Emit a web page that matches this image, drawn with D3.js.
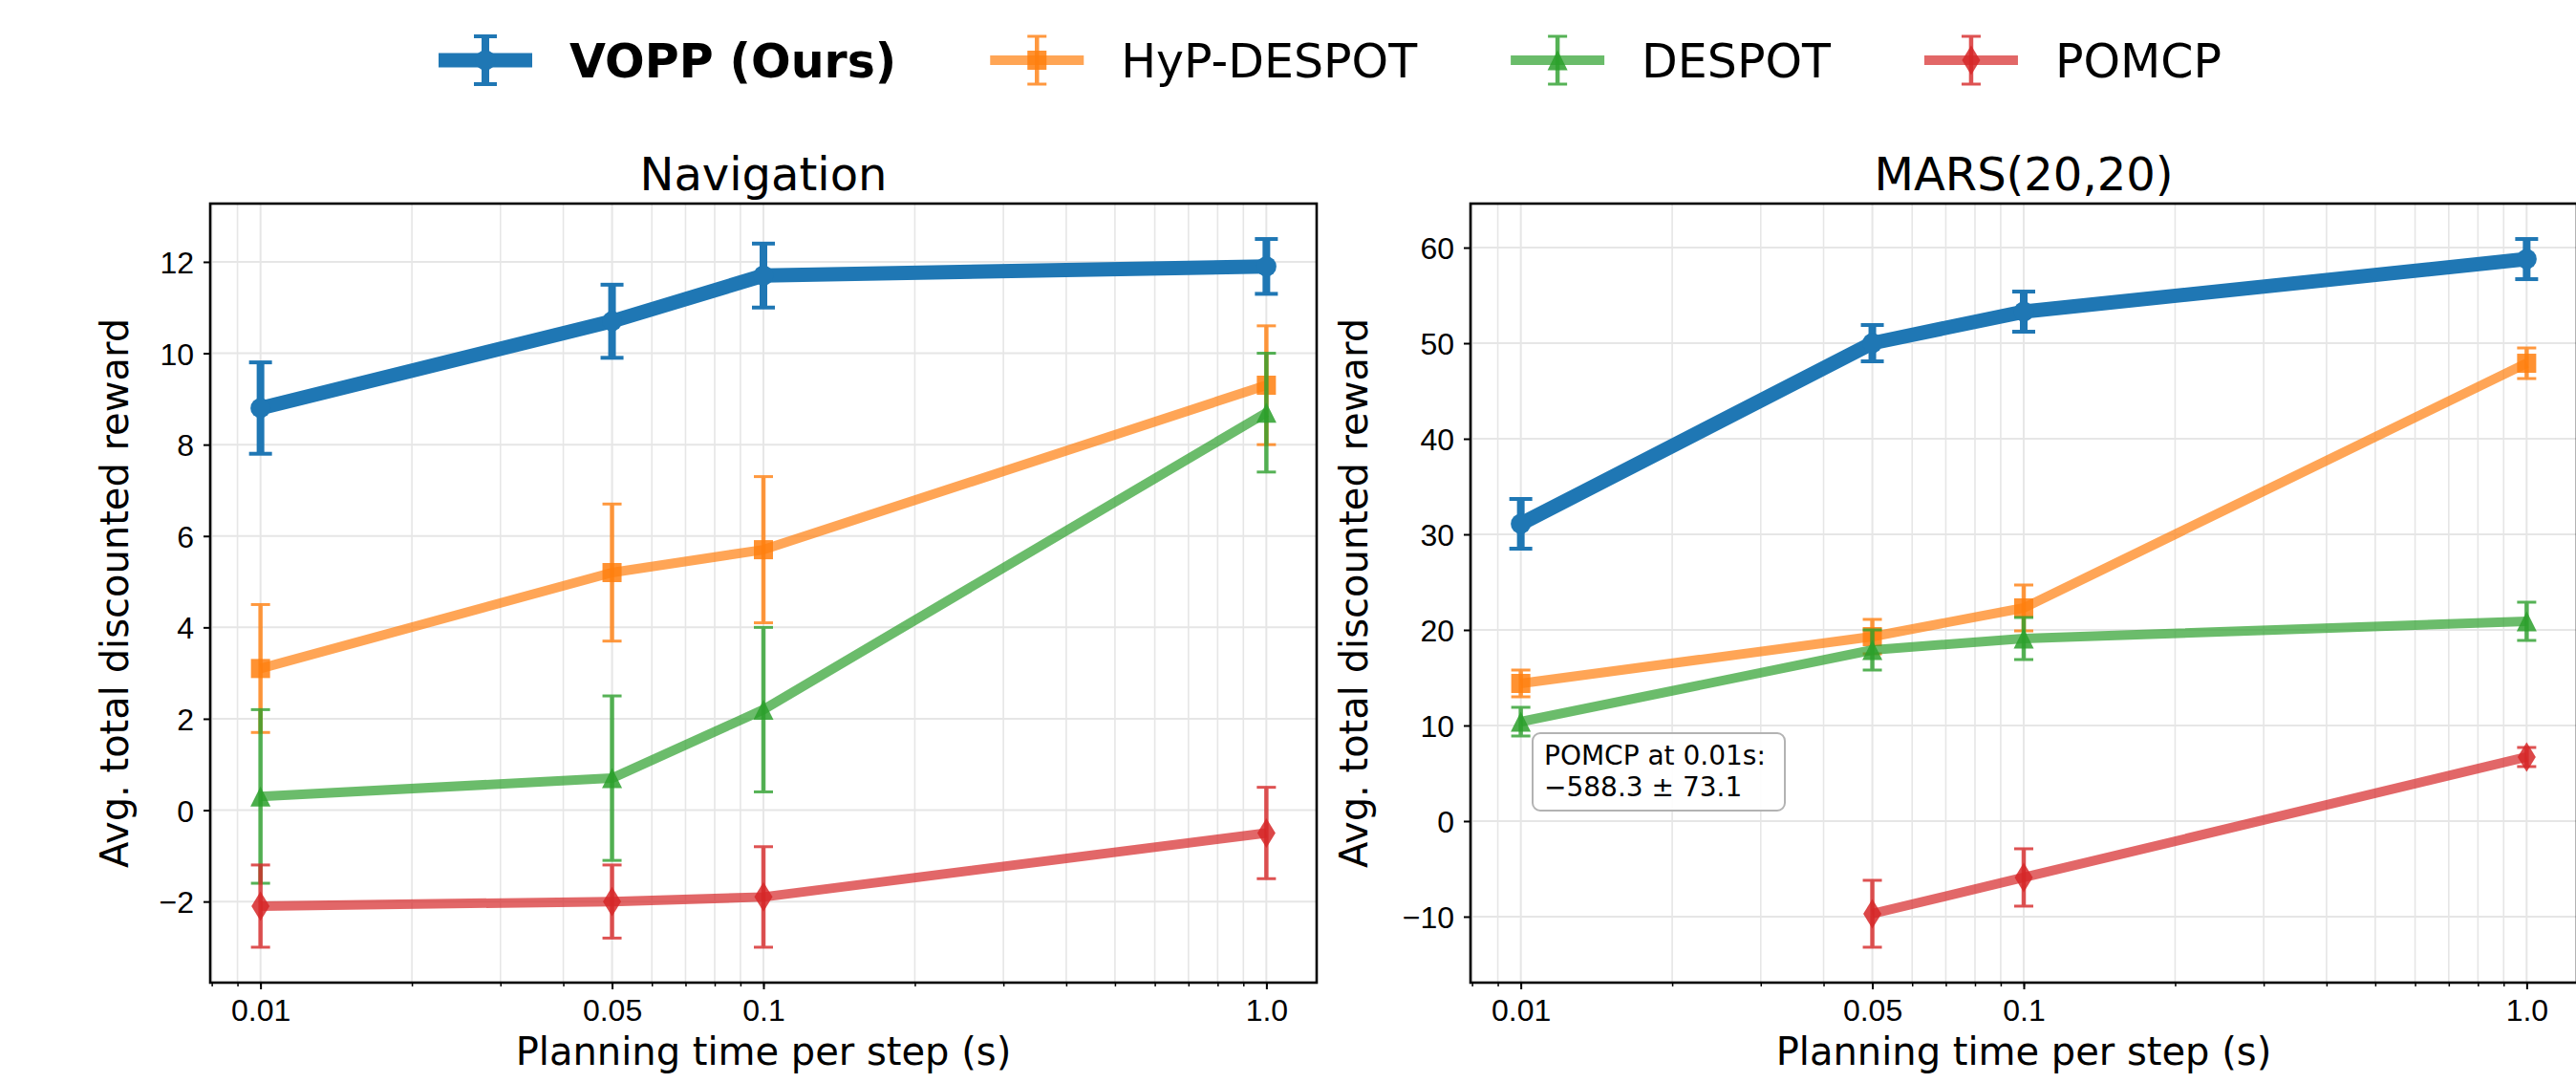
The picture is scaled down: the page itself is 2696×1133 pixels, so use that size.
<!DOCTYPE html>
<html>
<head>
<meta charset="utf-8">
<script src="https://cdn.jsdelivr.net/npm/d3@7"></script>
<style>
  body { margin: 0; background: #fff; }
  svg { display: block; font-family: 'DejaVu Sans', sans-serif; }
</style>
</head>
<body>
<div id="chart"></div>
<script>
const times = [0.01, 0.05, 0.1, 1.0]
const timeLabels = ['0.01', '0.05', '0.1', '1.0']
const methods = ['VOPP (Ours)', 'HyP-DESPOT', 'DESPOT', 'POMCP']
const colors = ['#1f77b4', '#ff7f0e', '#2ca02c', '#d62728']
const symbols = ['circle', 'square', 'triangle', 'diamond']

// Navigation: one row per method, one value per planning time
const navMeans = [
  [8.8, 10.7, 11.7, 11.9],
  [3.1, 5.2, 5.7, 9.3],
  [0.3, 0.7, 2.2, 8.7],
  [-2.1, -2.0, -1.9, -0.5]
]
const navErrs = [
  [1.0, 0.8, 0.7, 0.6],
  [1.4, 1.5, 1.6, 1.3],
  [1.9, 1.8, 1.8, 1.3],
  [0.9, 0.8, 1.1, 1.0]
]
const navYTicks = [-2, 0, 2, 4, 6, 8, 10, 12]

// MARS(20,20): POMCP at 0.01s is far off the chart, shown as a note instead
const marsMeans = [
  [31.1, 50.0, 53.3, 58.8],
  [14.4, 19.3, 22.3, 47.9],
  [10.4, 17.9, 19.1, 20.9],
  [null, -9.7, -5.9, 6.7]
]
const marsErrs = [
  [2.6, 1.9, 2.1, 2.1],
  [1.4, 1.8, 2.4, 1.6],
  [1.5, 2.1, 2.2, 2.0],
  [null, 3.5, 3.0, 1.0]
]
const marsYTicks = [-10, 0, 10, 20, 30, 40, 50, 60]
const marsPomcpOff = [-588.3, 73.1]

const width = 2696
const height = 1133
const plotTop = 213
const plotBottom = 1028
const plotW = 1158

const svg = d3
  .select('#chart')
  .append('svg')
  .attr('width', width)
  .attr('height', height)

const minus = d => (d < 0 ? '\u2212' + Math.abs(d) : String(d))

function markerPath(kind, big) {
  if (kind === 'circle') {
    const r = big ? 10.5 : 9
    return `M${-r},0A${r},${r} 0 1,0 ${r},0A${r},${r} 0 1,0 ${-r},0Z`
  }
  if (kind === 'square') {
    const s = 10
    return `M${-s},${-s}H${s}V${s}H${-s}Z`
  }
  if (kind === 'triangle') {
    const s = 10.5
    return `M0,${-s}L${s},${s}L${-s},${s}Z`
  }
  const h = 15.5
  const w = 9.5
  return `M0,${-h}L${w},0L0,${h}L${-w},0Z`
}

function styleFor(i) {
  const big = i === 0
  return {
    lineWidth: big ? 15 : 10,
    lineOpacity: big ? 1 : 0.7,
    barWidth: big ? 8 : 4.5,
    capHalf: big ? 12 : 10,
    capWidth: big ? 4 : 3,
    barOpacity: big ? 1 : 0.8
  }
}

function drawPanel(cfg) {
  const g = svg.append('g')
  const x = d3
    .scaleLog()
    .domain([Math.pow(10, -2.1), Math.pow(10, 0.1)])
    .range([cfg.left, cfg.left + plotW])

  const lows = []
  const highs = []
  cfg.means.forEach((row, i) =>
    row.forEach((m, j) => {
      if (m === null) return
      lows.push(m - cfg.errs[i][j])
      highs.push(m + cfg.errs[i][j])
    })
  )
  const lo = d3.min(lows)
  const hi = d3.max(highs)
  const pad = (hi - lo) * 0.05
  const y = d3
    .scaleLinear()
    .domain([lo - pad, hi + pad])
    .range([plotBottom, plotTop])

  const minorTicks = x.ticks()

  // grid
  g.selectAll('.xgrid')
    .data(minorTicks.concat(times))
    .enter()
    .append('line')
    .attr('x1', d => x(d))
    .attr('x2', d => x(d))
    .attr('y1', plotTop)
    .attr('y2', plotBottom)
    .attr('stroke', '#e6e6e6')
    .attr('stroke-width', 1.6)

  g.selectAll('.ygrid')
    .data(cfg.yTicks)
    .enter()
    .append('line')
    .attr('x1', cfg.left)
    .attr('x2', cfg.left + plotW)
    .attr('y1', d => y(d))
    .attr('y2', d => y(d))
    .attr('stroke', '#e6e6e6')
    .attr('stroke-width', 2)

  // axes
  const xMinor = g
    .append('g')
    .attr('transform', `translate(0,${plotBottom})`)
    .call(d3.axisBottom(x).tickValues(minorTicks).tickSize(4).tickFormat(''))
  xMinor.select('.domain').remove()
  xMinor.selectAll('line').attr('stroke', '#000').attr('stroke-width', 1.5)

  const xAxis = g
    .append('g')
    .attr('transform', `translate(0,${plotBottom})`)
    .call(
      d3
        .axisBottom(x)
        .tickValues(times)
        .tickSize(7)
        .tickPadding(10)
        .tickFormat((d, i) => timeLabels[i])
    )
  xAxis.select('.domain').remove()
  xAxis.selectAll('line').attr('stroke', '#000').attr('stroke-width', 2)
  xAxis
    .selectAll('text')
    .attr('fill', '#000')
    .style('font-size', '32px')
    .attr('dy', '0.71em')

  const yAxis = g
    .append('g')
    .attr('transform', `translate(${cfg.left},0)`)
    .call(
      d3
        .axisLeft(y)
        .tickValues(cfg.yTicks)
        .tickSize(7)
        .tickPadding(10)
        .tickFormat(minus)
    )
  yAxis.select('.domain').remove()
  yAxis.selectAll('line').attr('stroke', '#000').attr('stroke-width', 2)
  yAxis
    .selectAll('text')
    .attr('fill', '#000')
    .style('font-size', '32px')
    .attr('dy', '0.36em')

  // series
  methods.forEach((name, i) => {
    const st = styleFor(i)
    const pts = times
      .map((t, j) => ({ t: t, m: cfg.means[i][j], e: cfg.errs[i][j] }))
      .filter(d => d.m !== null)
    const sg = g.append('g')

    sg.append('path')
      .datum(pts)
      .attr(
        'd',
        d3
          .line()
          .x(d => x(d.t))
          .y(d => y(d.m))
      )
      .attr('fill', 'none')
      .attr('stroke', colors[i])
      .attr('stroke-width', st.lineWidth)
      .attr('stroke-linejoin', 'round')
      .attr('opacity', st.lineOpacity)

    const bars = sg
      .selectAll('.bar')
      .data(pts)
      .enter()
      .append('g')
      .attr('opacity', st.barOpacity)
    bars
      .append('line')
      .attr('x1', d => x(d.t))
      .attr('x2', d => x(d.t))
      .attr('y1', d => y(d.m - d.e))
      .attr('y2', d => y(d.m + d.e))
      .attr('stroke', colors[i])
      .attr('stroke-width', st.barWidth)
    bars
      .selectAll('.cap')
      .data(d => [d.m - d.e, d.m + d.e].map(v => ({ t: d.t, v: v })))
      .enter()
      .append('line')
      .attr('x1', d => x(d.t) - st.capHalf)
      .attr('x2', d => x(d.t) + st.capHalf)
      .attr('y1', d => y(d.v))
      .attr('y2', d => y(d.v))
      .attr('stroke', colors[i])
      .attr('stroke-width', st.capWidth)

    sg.selectAll('.mark')
      .data(pts)
      .enter()
      .append('path')
      .attr('d', markerPath(symbols[i], i === 0))
      .attr('transform', d => `translate(${x(d.t)},${y(d.m)})`)
      .attr('fill', colors[i])
      .attr('opacity', i === 0 ? 1 : 0.85)
  })

  // frame
  g.append('rect')
    .attr('x', cfg.left)
    .attr('y', plotTop)
    .attr('width', plotW)
    .attr('height', plotBottom - plotTop)
    .attr('fill', 'none')
    .attr('stroke', '#000')
    .attr('stroke-width', 2.6)

  // labels
  g.append('text')
    .text(cfg.title)
    .attr('x', cfg.left + plotW / 2)
    .attr('y', plotTop - 14)
    .attr('text-anchor', 'middle')
    .style('font-size', '48px')

  g.append('text')
    .text('Planning time per step (s)')
    .attr('x', cfg.left + plotW / 2)
    .attr('y', 1114)
    .attr('text-anchor', 'middle')
    .style('font-size', '40px')

  g.append('text')
    .text('Avg. total discounted reward')
    .attr('transform', `translate(${cfg.labelX},${(plotTop + plotBottom) / 2}) rotate(-90)`)
    .attr('text-anchor', 'middle')
    .style('font-size', '40px')

  return { g: g, x: x, y: y }
}

drawPanel({
  title: 'Navigation',
  left: 220,
  labelX: 134,
  means: navMeans,
  errs: navErrs,
  yTicks: navYTicks
})

const mars = drawPanel({
  title: 'MARS(20,20)',
  left: 1539,
  labelX: 1431,
  means: marsMeans,
  errs: marsErrs,
  yTicks: marsYTicks
})

// note box for the POMCP point that is off the chart
const note = mars.g.append('g').attr('transform', 'translate(1604,767)')
note
  .append('rect')
  .attr('width', 264)
  .attr('height', 81)
  .attr('rx', 8)
  .attr('fill', '#fff')
  .attr('fill-opacity', 0.9)
  .attr('stroke', '#b3b3b3')
  .attr('stroke-width', 2)
note
  .append('text')
  .attr('x', 12)
  .attr('y', 33)
  .style('font-size', '28px')
  .text('POMCP at ' + timeLabels[0] + 's:')
note
  .append('text')
  .attr('x', 12)
  .attr('y', 66)
  .style('font-size', '28px')
  .text(minus(marsPomcpOff[0]) + ' \u00b1 ' + marsPomcpOff[1])

// Legend
const legend = svg.append('g').attr('transform', 'translate(459,63)')
let cursor = 0
methods.forEach((name, i) => {
  const st = styleFor(i)
  const item = legend.append('g').attr('transform', `translate(${cursor},0)`)
  item
    .append('line')
    .attr('x1', 0)
    .attr('x2', 98)
    .attr('stroke', colors[i])
    .attr('stroke-width', st.lineWidth)
    .attr('opacity', st.lineOpacity)
  const bar = item.append('g').attr('opacity', st.barOpacity)
  bar
    .append('line')
    .attr('x1', 49)
    .attr('x2', 49)
    .attr('y1', -25)
    .attr('y2', 25)
    .attr('stroke', colors[i])
    .attr('stroke-width', st.barWidth)
  ;[-25, 25].forEach(v => {
    bar
      .append('line')
      .attr('x1', 49 - st.capHalf)
      .attr('x2', 49 + st.capHalf)
      .attr('y1', v)
      .attr('y2', v)
      .attr('stroke', colors[i])
      .attr('stroke-width', st.capWidth)
  })
  item
    .append('path')
    .attr('d', markerPath(symbols[i], i === 0))
    .attr('transform', 'translate(49,0)')
    .attr('fill', colors[i])
    .attr('opacity', i === 0 ? 1 : 0.85)
  const label = item
    .append('text')
    .text(name)
    .attr('x', 137)
    .attr('dy', '0.36em')
    .style('font-size', '49px')
    .style('font-weight', i === 0 ? 'bold' : 'normal')
  cursor += 137 + label.node().getComputedTextLength() + 98
})
</script>
</body>
</html>
